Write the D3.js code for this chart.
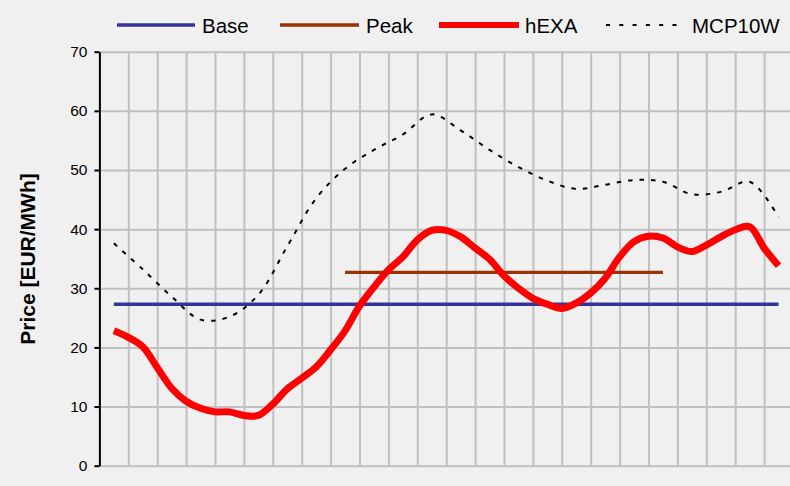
<!DOCTYPE html>
<html>
<head>
<meta charset="utf-8">
<script src="https://cdn.jsdelivr.net/npm/d3@7"></script>
<style>
  body { margin:0; background:#f0f0f0; }
  svg { display:block; font-family:"Liberation Sans", Arial, sans-serif; }
</style>
</head>
<body>
<div id="chart"></div>
<script>
//Set dimensions of svg
var w=790;
var h=486;
var margin={left:99.4, top:51.7, bottom:20.3};
var hours=24;

//Series values (EUR/MWh), hourly unless noted
var hourLabels=d3.range(1,25);
var base=[27.3,27.3,27.3,27.3,27.3,27.3,27.3,27.3,27.3,27.3,27.3,27.3,
          27.3,27.3,27.3,27.3,27.3,27.3,27.3,27.3,27.3,27.3,27.3,27.3];
var peakHours=[9,10,11,12,13,14,15,16,17,18,19,20];
var peak=[32.7,32.7,32.7,32.7,32.7,32.7,32.7,32.7,32.7,32.7,32.7,32.7];
//hEXA read at half-hour steps, from hour 1 to hour 24
var hexa=[22.8,21.7,20.1,16.6,13.1,10.9,9.7,9.1,9.1,8.5,8.5,10.4,13.0,14.8,16.7,19.6,
          22.8,27.0,30.2,33.1,35.3,38.2,39.8,39.8,38.7,36.8,34.9,32.1,30.0,28.3,27.3,26.6,
          27.5,29.2,31.7,35.3,37.9,38.8,38.5,37.0,36.2,37.3,38.7,39.9,40.4,36.8,33.8];
var mcp10w=[37.6,33.2,28.6,24.7,25.2,28.9,37.1,45.2,50.2,53.4,56.0,59.4,
            56.7,53.4,50.5,48.2,46.8,47.5,48.3,48.0,45.9,46.3,48.0,42.0];
var yTicks=[0,10,20,30,40,50,60,70];

//Colors
var colors={base:"#333399", peak:"#993300", hexa:"#ff0000", mcp:"#000000"};

var svg=d3.select("#chart")
          .append("svg")
          .attr("width",w)
          .attr("height",h);

svg.append("rect").attr("width",w).attr("height",h).attr("fill","#f0f0f0");

//Scales: x in hours (band of 28.9px per hour), y in EUR/MWh
var x=d3.scaleLinear().domain([0,hours]).range([margin.left, margin.left+hours*28.9]);
var y=d3.scaleLinear().domain([0,70]).range([h-margin.bottom, margin.top]);

//Horizontal gridlines
svg.append("g")
   .attr("transform","translate("+margin.left+",0)")
   .call(d3.axisLeft(y).tickValues(yTicks).tickSize(-(w-margin.left)).tickFormat(""))
   .call(function(g) {g.select(".domain").remove();})
   .selectAll("line")
   .attr("stroke","#c0c0c0")
   .attr("stroke-width",2);

//Vertical gridlines at hour boundaries
svg.append("g")
   .attr("transform","translate(0,"+y(0)+")")
   .call(d3.axisBottom(x).tickValues(d3.range(1,hours+1)).tickSize(-(y(0)-y(70))).tickFormat(""))
   .call(function(g) {g.select(".domain").remove();})
   .selectAll("line")
   .attr("stroke","#c0c0c0")
   .attr("stroke-width",2);

//Y axis
var yAxis=svg.append("g")
   .attr("transform","translate("+margin.left+",0)")
   .call(d3.axisLeft(y).tickValues(yTicks).tickSize(5).tickSizeOuter(0).tickPadding(7));
yAxis.select(".domain").attr("stroke","#000").attr("stroke-width",2);
yAxis.selectAll(".tick line").attr("stroke","#000").attr("stroke-width",2);
yAxis.selectAll(".tick text")
     .attr("fill","#000")
     .style("font-size","15.5px")
     .style("font-family","'Liberation Sans', Arial, sans-serif");

//Y title
svg.append("text")
   .text("Price [EUR/MWh]")
   .attr("transform","translate(35,259) rotate(-90)")
   .attr("text-anchor","middle")
   .style("font-size","21px")
   .style("font-weight","bold")
   .attr("fill","#000");

//Line generators
var hourLine=d3.line()
    .x(function(d) {return x(d.hour-0.5);})
    .y(function(d) {return y(d.value);});
var smoothLine=d3.line()
    .curve(d3.curveCatmullRom.alpha(0.5))
    .x(function(d) {return x(d.hour-0.5);})
    .y(function(d) {return y(d.value);});

var baseData=base.map(function(v,i) {return {hour:hourLabels[i], value:v};});
var peakData=peak.map(function(v,i) {return {hour:peakHours[i], value:v};});
var hexaData=hexa.map(function(v,i) {return {hour:1+i/2, value:v};});
var mcpData=mcp10w.map(function(v,i) {return {hour:hourLabels[i], value:v};});

svg.append("path").datum(mcpData)
   .attr("d",smoothLine)
   .attr("fill","none")
   .attr("stroke",colors.mcp)
   .attr("stroke-width",2)
   .attr("stroke-dasharray","4.5,7");

svg.append("path").datum(baseData)
   .attr("d",hourLine)
   .attr("fill","none")
   .attr("stroke",colors.base)
   .attr("stroke-width",3.3);

svg.append("path").datum(peakData)
   .attr("d",hourLine)
   .attr("fill","none")
   .attr("stroke",colors.peak)
   .attr("stroke-width",3.3);

svg.append("path").datum(hexaData)
   .attr("d",smoothLine)
   .attr("fill","none")
   .attr("stroke",colors.hexa)
   .attr("stroke-width",7)
   .attr("stroke-linejoin","round");

//Legend
var legendItems=[
  {name:"Base", color:colors.base, width:3.3, dash:null, x1:117, x2:195, tx:202},
  {name:"Peak", color:colors.peak, width:3.3, dash:null, x1:280, x2:359, tx:366},
  {name:"hEXA", color:colors.hexa, width:6, dash:null, x1:439, x2:519, tx:525},
  {name:"MCP10W", color:colors.mcp, width:2, dash:"4,9.3", x1:606, x2:683, tx:692}
];
var legend=svg.append("g").attr("id","legend");
legendItems.forEach(function(d) {
  legend.append("line")
        .attr("x1",d.x1).attr("x2",d.x2)
        .attr("y1",25).attr("y2",25)
        .attr("stroke",d.color)
        .attr("stroke-width",d.width)
        .attr("stroke-dasharray",d.dash);
  legend.append("text")
        .text(d.name)
        .attr("x",d.tx)
        .attr("y",33.3)
        .style("font-size","20.5px")
        .attr("fill","#000");
});
</script>
</body>
</html>
